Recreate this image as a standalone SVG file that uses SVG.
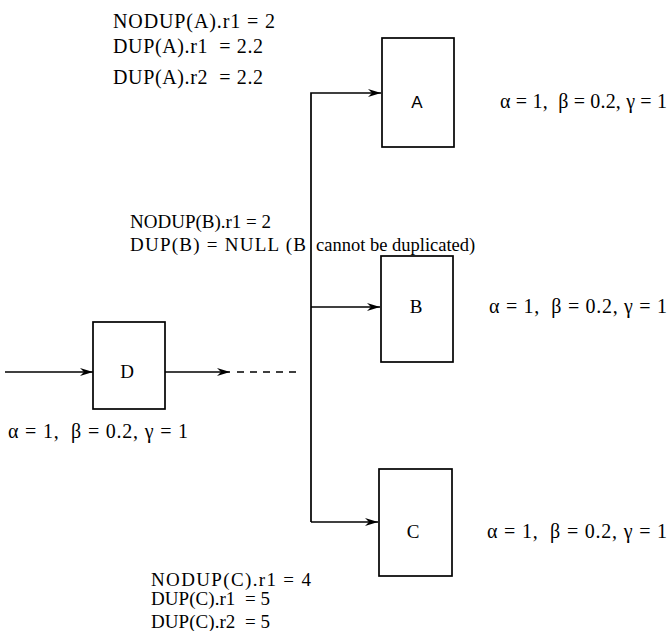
<svg xmlns="http://www.w3.org/2000/svg" width="669" height="631" viewBox="0 0 669 631">
  <style>
    .t { font-family: "Liberation Serif", "Times New Roman", serif; font-size: 20px; fill: #000; white-space: pre; }
    .t-sm { font-family: "Liberation Serif", "Times New Roman", serif; font-size: 19px; fill: #000; white-space: pre; }
    .lbl { font-family: "Liberation Serif", "Times New Roman", serif; font-size: 19px; fill: #000; text-anchor: middle; }
    .lbl-sans { font-family: "Liberation Sans", Arial, sans-serif; font-size: 17px; fill: #000; text-anchor: middle; }
    .box { fill: #fff; stroke: #000; stroke-width: 1.7; }
    .wire { fill: none; stroke: #000; stroke-width: 1.7; }
    .dash { fill: none; stroke: #000; stroke-width: 1.7; stroke-dasharray: 7 6; }
  </style>
  <defs>
    <marker id="arrow" viewBox="0 0 14 10" refX="13" refY="5" markerWidth="14" markerHeight="10" markerUnits="userSpaceOnUse" orient="auto">
      <path d="M0,1 L13,5 L0,9 L4,5 Z" fill="#000"/>
    </marker>
  </defs>

  <!-- connectors -->
  <g id="connectors">
    <line class="wire" x1="5" y1="372" x2="93" y2="372" marker-end="url(#arrow)"/>
    <line class="wire" x1="165" y1="372" x2="230" y2="372" marker-end="url(#arrow)"/>
    <line class="dash" x1="237" y1="372" x2="302" y2="372"/>
    <path class="wire" d="M311,522 V93 H381" marker-end="url(#arrow)"/>
    <line class="wire" x1="311" y1="307" x2="380" y2="307" marker-end="url(#arrow)"/>
    <line class="wire" x1="311" y1="522" x2="378" y2="522" marker-end="url(#arrow)"/>
  </g>

  <!-- node A -->
  <g id="node-A">
    <rect class="box" x="382" y="38" width="72" height="109"/>
    <text class="lbl-sans" x="417" y="108">A</text>
    <text class="t" x="500" y="108" textLength="167">α = 1,  β = 0.2, γ = 1</text>
  </g>
  <g id="notes-A">
    <text class="t" x="113" y="28" textLength="162">NODUP(A).r1 = 2</text>
    <text class="t" x="113" y="53" textLength="150">DUP(A).r1  = 2.2</text>
    <text class="t" x="113" y="84" textLength="150">DUP(A).r2  = 2.2</text>
  </g>

  <!-- node B -->
  <g id="node-B">
    <rect class="box" x="381" y="256" width="72" height="106"/>
    <text class="lbl" x="416" y="313">B</text>
    <text class="t" x="489" y="313" textLength="178">α = 1,  β = 0.2, γ = 1</text>
  </g>
  <g id="notes-B">
    <text class="t-sm" x="130" y="228">NODUP(B).r1 = 2</text>
    <!-- the branch line runs between "(B" and "cannot" -->
    <text class="t-sm" x="130" y="251" textLength="176">DUP(B) = NULL (B</text>
    <text class="t-sm" x="316" y="251" style="font-size:18.5px">cannot be duplicated)</text>
  </g>

  <!-- node D -->
  <g id="node-D">
    <rect class="box" x="93" y="322" width="72" height="87"/>
    <text class="lbl" x="127" y="378">D</text>
    <text class="t" x="8" y="438" textLength="180">α = 1,  β = 0.2, γ = 1</text>
  </g>

  <!-- node C -->
  <g id="node-C">
    <rect class="box" x="379" y="469" width="73" height="107"/>
    <text class="lbl" x="413" y="538">C</text>
    <text class="t" x="487" y="538" textLength="180">α = 1,  β = 0.2, γ = 1</text>
  </g>
  <g id="notes-C">
    <text class="t" x="151" y="586" textLength="160" style="font-size:19px">NODUP(C).r1 = 4</text>
    <text class="t" x="151" y="605" textLength="119" style="font-size:19px">DUP(C).r1  = 5</text>
    <text class="t" x="151" y="628" textLength="119" style="font-size:19px">DUP(C).r2  = 5</text>
  </g>
</svg>
